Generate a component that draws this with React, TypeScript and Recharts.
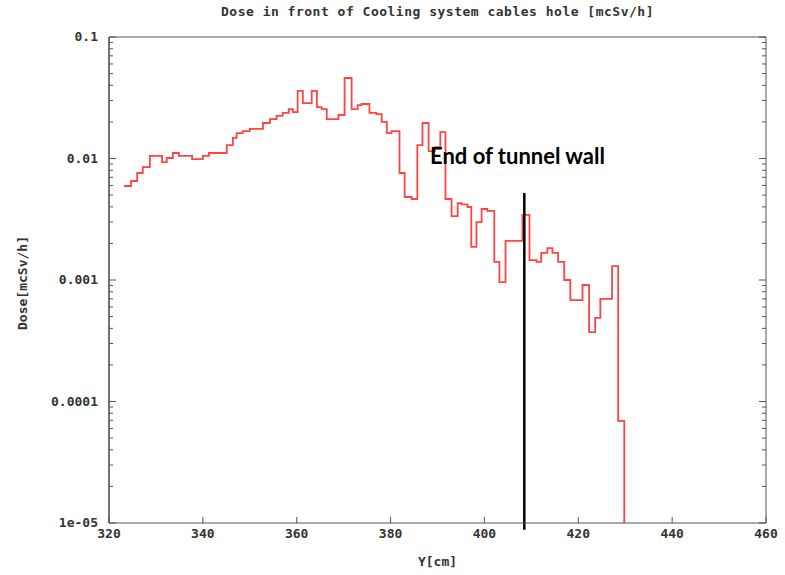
import { Line, LineChart, ReferenceLine, XAxis, YAxis } from "recharts"

// start of each histogram bin, Y [cm]
const binStart = [
  323.2, 324.7, 326.0, 327.2, 328.7, 331.3, 332.3, 333.6, 334.9, 337.7,
  340.0, 341.3, 345.1, 346.4, 347.2, 348.5, 350.0, 352.8, 354.3, 355.7,
  357.0, 358.3, 359.2, 360.2, 361.3, 363.2, 364.3, 365.3, 366.4, 368.9,
  370.2, 371.7, 373.0, 373.8, 375.5, 377.0, 378.1, 379.2, 380.2, 381.9,
  383.0, 384.5, 385.7, 386.8, 388.1, 389.4, 390.6, 391.7, 393.0, 394.3,
  395.1, 396.4, 397.2, 398.3, 399.4, 400.6, 402.1, 403.2, 404.5, 408.1,
  409.6, 411.1, 412.1, 413.4, 414.5, 415.7, 417.0, 418.3, 420.9, 422.3,
  423.6, 424.7, 427.2, 428.5, 429.8,
]

// dose in each bin [mcSv/h]
const dose = [
  0.00594, 0.00653, 0.0076, 0.0085, 0.0105, 0.00935, 0.0101, 0.0111, 0.0105, 0.0099,
  0.0105, 0.0111, 0.0129, 0.0148, 0.0162, 0.0168, 0.0175, 0.0196, 0.0211, 0.0224,
  0.0237, 0.0255, 0.0241, 0.036, 0.0286, 0.036, 0.0265, 0.0255, 0.0211, 0.0228,
  0.046, 0.0255, 0.0275, 0.0281, 0.0237, 0.0232, 0.02, 0.0162, 0.0168, 0.0076,
  0.00482, 0.00464, 0.0129, 0.0196, 0.0115, 0.0124, 0.0165, 0.00464, 0.00336, 0.0043,
  0.0042, 0.00399, 0.00187, 0.003, 0.00384, 0.0037, 0.00141, 0.00096, 0.0021, 0.00343,
  0.00146, 0.00141, 0.00167, 0.00183, 0.00167, 0.00141, 0.001, 0.000684, 0.00091, 0.000373,
  0.000487, 0.000698, 0.0013, 0.0000692, 0.00001,
]

const xTicks = [320, 340, 360, 380, 400, 420, 440, 460]
const yMajor = [0.00001, 0.0001, 0.001, 0.01, 0.1]
const yMajorLabels = ["1e-05", "0.0001", "0.001", "0.01", "0.1"]
const minorSteps = [2, 3, 4, 5, 6, 7, 8, 9]
const yTicks = [
  ...yMajor,
  ...yMajor.slice(0, 4).flatMap((d) => minorSteps.map((m) => d * m)),
]

const wallY = 408.5

const data = binStart.map((y, i) => ({ y, dose: dose[i] }))

const frame = "#555"
const mono = "'DejaVu Sans Mono', monospace"

function labelFor(v: number) {
  const i = yMajor.findIndex((d) => Math.abs(d - v) / d < 1e-6)
  return i >= 0 ? yMajorLabels[i] : null
}

const BottomTick = (props: any) => {
  const { x, y, payload } = props
  return (
    <g>
      <line x1={x} y1={y} x2={x} y2={y - 6} stroke={frame} />
      <text x={x} y={y + 15} textAnchor="middle" fontFamily={mono} fontSize={13} fontWeight="bold" fill="#333">
        {payload.value}
      </text>
    </g>
  )
}

const TopTick = (props: any) => {
  const { x, y } = props
  return <line x1={x} y1={y} x2={x} y2={y + 6} stroke={frame} />
}

const LeftTick = (props: any) => {
  const { x, y, payload } = props
  const lab = labelFor(payload.value)
  return (
    <g>
      <line x1={x} y1={y} x2={x + (lab ? 7 : 4)} y2={y} stroke={frame} />
      {lab && (
        <text x={x - 11} y={y + 4} textAnchor="end" fontFamily={mono} fontSize={13} fontWeight="bold" fill="#333">
          {lab}
        </text>
      )}
    </g>
  )
}

const RightTick = (props: any) => {
  const { x, y, payload } = props
  const lab = labelFor(payload.value)
  return <line x1={x} y1={y} x2={x - (lab ? 7 : 4)} y2={y} stroke={frame} />
}

export default function App() {
  return (
    <div style={{ position: "absolute", left: 0, top: 0, width: 785, height: 575, background: "#fff" }}>
      <LineChart width={785} height={575} data={data} margin={{ top: 0, right: 0, bottom: 0, left: 0 }}>
        <XAxis
          dataKey="y"
          type="number"
          domain={[320, 460]}
          ticks={xTicks}
          interval={0}
          height={52}
          tickSize={0}
          tickMargin={0}
          tickLine={false}
          axisLine={{ stroke: frame }}
          tick={<BottomTick />}
        />
        <XAxis
          xAxisId="top"
          orientation="top"
          type="number"
          domain={[320, 460]}
          ticks={xTicks}
          interval={0}
          height={37}
          tickSize={0}
          tickMargin={0}
          tickLine={false}
          axisLine={{ stroke: frame }}
          tick={<TopTick />}
        />
        <YAxis
          scale="log"
          type="number"
          domain={[0.00001, 0.1]}
          allowDataOverflow
          ticks={yTicks}
          interval={0}
          width={109}
          tickSize={0}
          tickMargin={0}
          tickLine={false}
          axisLine={{ stroke: "#444", strokeWidth: 1.5 }}
          tick={<LeftTick />}
        />
        <YAxis
          yAxisId="right"
          orientation="right"
          scale="log"
          type="number"
          domain={[0.00001, 0.1]}
          allowDataOverflow
          ticks={yTicks}
          interval={0}
          width={19}
          tickSize={0}
          tickMargin={0}
          tickLine={false}
          axisLine={{ stroke: frame }}
          tick={<RightTick />}
        />
        <Line
          type="stepAfter"
          dataKey="dose"
          stroke="#ff4444"
          strokeWidth={1.8}
          dot={false}
          isAnimationActive={false}
        />
        <ReferenceLine
          segment={[
            { x: wallY, y: 0.0052 },
            { x: wallY, y: 0.0000088 },
          ]}
          stroke="#000"
          strokeWidth={2.5}
          ifOverflow="visible"
        />
      </LineChart>
      <div style={{ position: "absolute", left: 109, width: 657, top: 4, textAlign: "center", fontFamily: mono, fontSize: 13, fontWeight: "bold", letterSpacing: 0.5, color: "#333" }}>
        Dose in front of Cooling system cables hole [mcSv/h]
      </div>
      <div style={{ position: "absolute", left: 109, width: 657, top: 554, textAlign: "center", fontFamily: mono, fontSize: 13, fontWeight: "bold", color: "#333" }}>
        Y[cm]
      </div>
      <div
        style={{
          position: "absolute",
          left: 22,
          top: 283,
          transform: "translate(-50%, -50%) rotate(-90deg)",
          whiteSpace: "nowrap",
          fontFamily: mono,
          fontSize: 13,
          fontWeight: "bold",
          color: "#333",
        }}
      >
        Dose[mcSv/h]
      </div>
      <div style={{ position: "absolute", left: 430, top: 142, fontFamily: "Lato, sans-serif", fontSize: 22, fontWeight: "bold", color: "#000", whiteSpace: "nowrap" }}>
        End of tunnel wall
      </div>
    </div>
  )
}
